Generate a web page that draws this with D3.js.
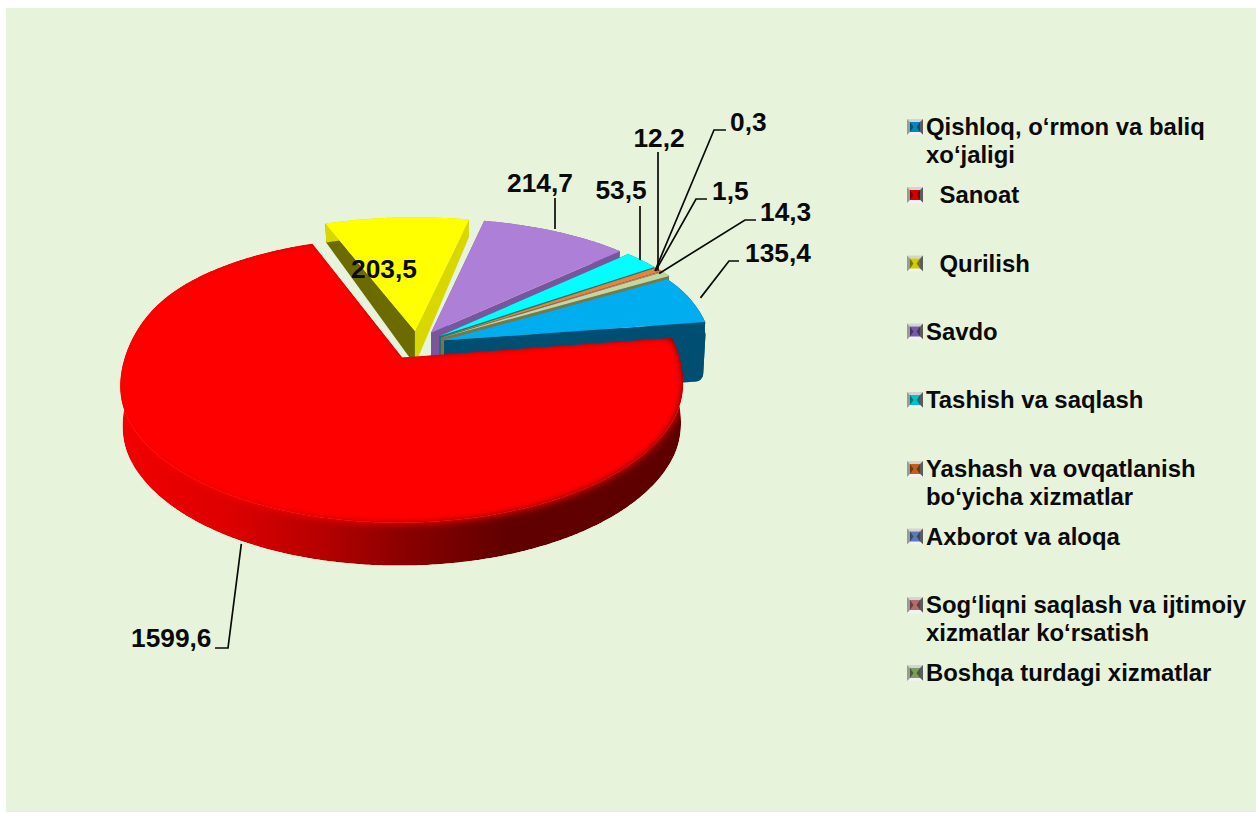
<!DOCTYPE html>
<html><head><meta charset="utf-8">
<script src="https://cdn.jsdelivr.net/npm/d3@7"></script>
<style>html,body{margin:0;padding:0;background:#fff}svg{display:block}text{font-family:"Liberation Sans",Arial,sans-serif;font-weight:700;fill:#0a0a0a}</style>
</head><body><svg id="c" width="1256" height="813"></svg>
<script>
// data
const categories=["Qishloq, o‘rmon va baliq xo‘jaligi","Sanoat","Qurilish","Savdo","Tashish va saqlash","Yashash va ovqatlanish bo‘yicha xizmatlar","Axborot va aloqa","Sog‘liqni saqlash va ijtimoiy xizmatlar ko‘rsatish","Boshqa turdagi xizmatlar"];
const values=[135.4,1599.6,203.5,214.7,53.5,12.2,0.3,1.5,14.3];
const valueLabels=["135,4","1599,6","203,5","214,7","53,5","12,2","0,3","1,5","14,3"];
const legendLines=[["Qishloq, o‘rmon va baliq","xo‘jaligi"],["Sanoat"],["Qurilish"],["Savdo"],["Tashish va saqlash"],["Yashash va ovqatlanish","bo‘yicha xizmatlar"],["Axborot va aloqa"],["Sog‘liqni saqlash va ijtimoiy","xizmatlar ko‘rsatish"],["Boshqa turdagi xizmatlar"]];
// styles
const topColors=["#00aeef","#ff0000","#ffff00","#ad7fd6","#00ffff","#e8833a","#7d9bc9","#d99694","#c4d79b"];
const startCut=["#004f72","#800000","#6b6b00","#7a559e","#008080","#8a4a1a","#4a6a9a","#8a5a5a","#6f7a55"];
const endCut=["#004f72","#800000","#d8d800","#7a559e","#008080","#8a4a1a","#4a6a9a","#8a5a5a","#6f7a55"];
const keyColors=["#0088c4","#d40000","#cfcf00","#7a58a8","#00c4cc","#c0601c","#5a7cb4","#b46c6c","#7c9c60"];
const depthScale=[1.55,1,1,1,1,1,1,1,1];
const radiusScale=[0.98,1,1,1,1,1,1,1,1];
const drawOrder=[2,3,4,5,6,7,8,0,1];
// layout
const W=1256,H=813;
const cx=417,cy=345,Rx=274,Ry=135.4,perspY=0.155,perspFront=0.17,perspBack=0.07,explode=0.105;
const depth=d3.scaleLinear().domain([-1.1,-0.1,0.2,1.1]).range([18,34,40,43]);
const firstAngle=60*Math.PI/180;
const svg=d3.select("#c");
svg.append("rect").attr("x",6).attr("y",8).attr("width",W-6).attr("height",H-9).attr("fill","#e8f3dc");
const defs=svg.append("defs");
const wallGrad=defs.append("linearGradient").attr("id","redWall").attr("gradientUnits","userSpaceOnUse").attr("x1",120).attr("x2",684).attr("y1",0).attr("y2",0);
[[0,"#f20000"],[0.2,"#dc0000"],[0.35,"#b80000"],[0.5,"#8c0000"],[0.68,"#620000"],[1,"#5e0000"]].forEach(s=>wallGrad.append("stop").attr("offset",s[0]).attr("stop-color",s[1]));
defs.append("filter").attr("id","bevel").attr("x","-5%").attr("y","-5%").attr("width","110%").attr("height","110%").append("feGaussianBlur").attr("stdDeviation",4);

const arcs=d3.pie().sort(null).value(d=>d).startAngle(firstAngle).endAngle(firstAngle+2*Math.PI)(values);
function project(u,v,lower,k){
  const t=Math.max(0,Math.min(1,v+0.5)), blend=t*t*(3-2*t);
  const px=perspBack+(perspFront-perspBack)*blend;
  const x=cx+Rx*u/(1-px*v), y=cy+Ry*v/(1-perspY*v);
  if(!lower) return [x,y];
  return [cx+(x-cx)*0.992, y+depth(v)*k];
}
function offset(a){const m=(a.startAngle+a.endAngle)/2;return [explode*Math.sin(m),-explode*Math.cos(m)];}
function rimPoints(a,r0,lower,k){
  const [ou,ov]=offset(a),pts=[],r=r0*radiusScale[a.index];
  const n=Math.max(2,Math.ceil((a.endAngle-a.startAngle)/(Math.PI/360)));
  d3.range(n+1).forEach(i=>{const t=a.startAngle+(a.endAngle-a.startAngle)*i/n;
    pts.push(project(ou+r*Math.sin(t),ov-r*Math.cos(t),lower,k));});
  return pts;
}
const line=d3.line();
const closed=d3.line().curve(d3.curveLinearClosed);
const mix=(p,q,t)=>[p[0]+(q[0]-p[0])*t,p[1]+(q[1]-p[1])*t];
const pie=svg.append("g");
drawOrder.forEach(i=>{
  const a=arcs[i],k=depthScale[i];
  const [ou,ov]=offset(a);
  const top=rimPoints(a,1,false,k), bot=rimPoints(a,1,true,k);
  const at=project(ou,ov,false,k), ab=project(ou,ov,true,k);
  const topPath=closed([at,...top]);
  const wallPath=closed([...top,...bot.slice().reverse()]);
  const g=pie.append("g");
  if(i===1){
    const clip=defs.append("clipPath").attr("id","redClip");
    clip.append("path").attr("d",wallPath);
    clip.append("path").attr("d",topPath);
    const inner=g.append("g").attr("clip-path","url(#redClip)");
    inner.append("path").attr("d",wallPath).attr("fill","url(#redWall)");
    inner.append("path").attr("d",topPath).attr("fill","url(#redWall)");
    inner.append("path").attr("d",topPath).attr("fill",topColors[i]).attr("filter","url(#bevel)");
    inner.append("path").attr("d",closed([at,...rimPoints(a,0.98,false,k)])).attr("fill",topColors[i]).attr("filter","url(#bevel)");
    return;
  }
  if(i===0){
    // rounded lower corner of the exploded slice: stroked, inset copies below a shorter plain wall
    const rt=rimPoints(a,0.97,false,k).map(p=>[p[0],p[1]+12]), rb=rimPoints(a,0.97,true,k);
    const rtEnd=rt[rt.length-1], rbEnd=rb[rb.length-1];
    const shortBot=rimPoints(a,1,true,k*0.7);
    g.append("path").attr("d",closed([...top,...shortBot.slice().reverse()])).attr("fill",endCut[i]);
    g.append("path").attr("d",closed([at,top[top.length-1],shortBot[shortBot.length-1],ab])).attr("fill",endCut[i]);
    g.append("path").attr("d",closed([...rt,...rb.slice().reverse()])).attr("fill",endCut[i]).attr("stroke",endCut[i]).attr("stroke-width",16).attr("stroke-linejoin","round");
    g.append("path").attr("d",closed([mix(at,rtEnd,0.4),rtEnd,rbEnd,mix(ab,rbEnd,0.4)])).attr("fill",endCut[i]).attr("stroke",endCut[i]).attr("stroke-width",16).attr("stroke-linejoin","round");
  } else {
    g.append("path").attr("d",closed([at,top[0],bot[0],ab])).attr("fill",startCut[i]);
    g.append("path").attr("d",closed([at,top[top.length-1],bot[bot.length-1],ab])).attr("fill",endCut[i]);
    g.append("path").attr("d",wallPath).attr("fill",endCut[i]);
  }
  g.append("path").attr("d",topPath).attr("fill",topColors[i]);
});
// value labels and leader lines
const labelLayout=[
 {tx:745,ty:262,anchor:"start",gap:1.02,via:[[729,261],[739,261]]},
 {tx:131,ty:647,anchor:"start",gap:1.0,turn:-1.5,depthStart:true,via:[[228,648],[215,648]]},
 {tx:384,ty:278,anchor:"middle",via:null},
 {tx:540,ty:192,anchor:"middle",gap:1.03,vertical:true,via:[[555,198]]},
 {tx:621,ty:199,anchor:"middle",gap:1.0,vertical:true,via:[[640,206]]},
 {tx:659,ty:147,anchor:"middle",gap:0.98,vertical:true,via:[[658,152]]},
 {tx:730,ty:131,anchor:"start",gap:0.98,turn:-1,via:[[714,130],[726,130]]},
 {tx:712,ty:200,anchor:"start",gap:0.98,turn:-1,via:[[696,199],[707,199]]},
 {tx:760,ty:221,anchor:"start",gap:0.98,turn:-1,via:[[745,220],[756,220]]}
];
const labels=svg.append("g");
labelLayout.forEach((l,i)=>{
  const a=arcs[i],[ou,ov]=offset(a),m=(a.startAngle+a.endAngle)/2+(l.turn||0)*Math.PI/180;
  if(l.via){
    const r=l.gap;
    const s=project(ou+r*Math.sin(m),ov-r*Math.cos(m),!!l.depthStart,1);
    let start=l.depthStart?[s[0],s[1]+3]:s;
    if(l.vertical) start=[l.via[0][0],start[1]];
    labels.append("path").attr("d",line([start,...l.via])).attr("fill","none").attr("stroke","#0a0a0a").attr("stroke-width",1.7);
  }
  labels.append("text").attr("x",l.tx).attr("y",l.ty).attr("text-anchor",l.anchor).attr("font-size",26.3).text(valueLabels[i]);
});
// legend
const lineExtra=[0,13.5,13.5,0,0,0,0,0,0];
const legendCenters=[127,195,263.5,331.5,400,469,536.5,605,673];
const legend=svg.append("g");
categories.forEach((c,i)=>{
  const yc=legendCenters[i];
  const x0=907,y0=yc-8,n=16,b=3;
  const g=legend.append("g");
  const col=keyColors[i], q=(pts,f)=>g.append("path").attr("d",closed(pts)).attr("fill",f);
  const o=[[x0,y0],[x0+n,y0],[x0+n,y0+n],[x0,y0+n]], p=[[x0+b,y0+b],[x0+n-b,y0+b],[x0+n-b,y0+n-b],[x0+b,y0+n-b]];
  q([o[0],o[1],p[1],p[0]],"#d4d4d4");
  q([o[1],o[2],p[2],p[1]],"#5c5c5c");
  q([o[2],o[3],p[3],p[2]],"#f2f2f2");
  q([o[3],o[0],p[0],p[3]],"#9a9a9a");
  g.append("rect").attr("x",p[0][0]).attr("y",p[0][1]).attr("width",n-2*b).attr("height",n-2*b).attr("fill",col);
  const mid=[x0+n/2,y0+n/2],d3c=d3.color(col).darker(1.5).formatHex();
  q([p[0],[mid[0]-1.5,mid[1]],p[3]],d3c);
  q([p[1],[mid[0]+1.5,mid[1]],p[2]],d3c);
  const t=legend.append("text").attr("x",926+lineExtra[i]).attr("y",yc+8).attr("font-size",23.9);
  legendLines[i].forEach((s,j)=>t.append("tspan").attr("x",926+lineExtra[i]).attr("dy",j?27.5:0).text(s));
});
</script></body></html>
